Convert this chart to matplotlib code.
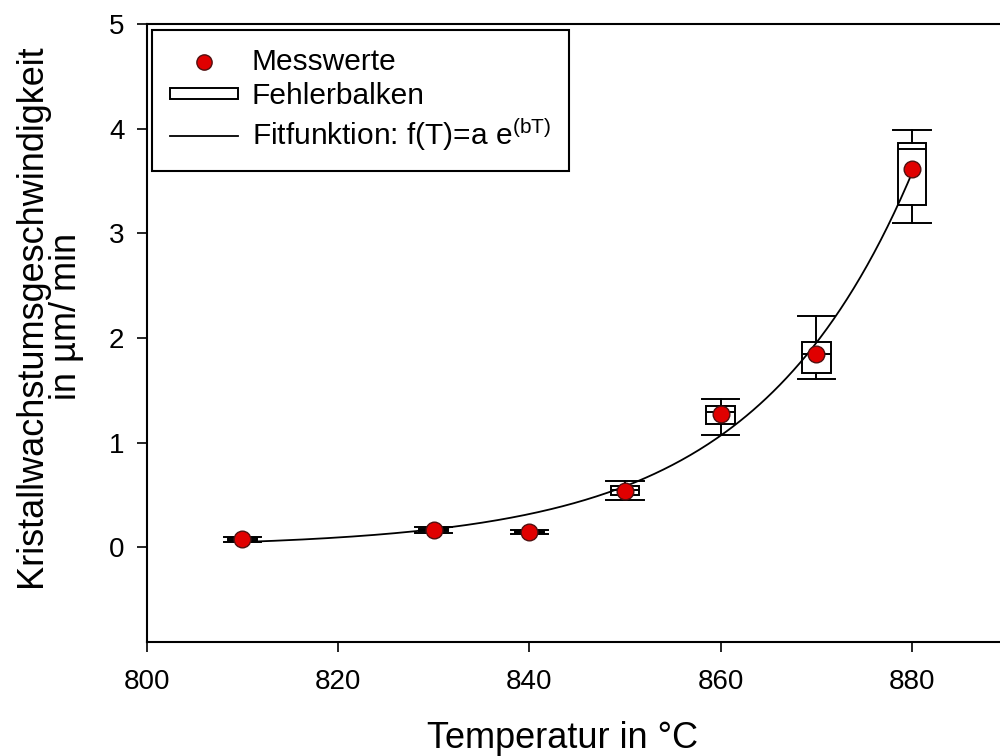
"""
Kristallwachstumsgeschwindigkeit vs. Temperatur, Boxplots + Exponentialfit.
"""
import matplotlib
matplotlib.use('Agg')
import matplotlib.pyplot as plt
import numpy as np
from matplotlib.lines import Line2D
from matplotlib.patches import Rectangle

plt.rcParams['font.family'] = ['Liberation Sans', 'DejaVu Sans']
plt.rcParams['mathtext.fontset'] = 'custom'
plt.rcParams['mathtext.rm'] = 'Liberation Sans'
plt.rcParams['mathtext.it'] = 'Liberation Sans'

temps = [810, 830, 840, 850, 860, 870, 880]
means = [0.08, 0.17, 0.15, 0.54, 1.27, 1.85, 3.61]
q1 = [0.065, 0.16, 0.14, 0.50, 1.18, 1.67, 3.27]
medians = [0.075, 0.17, 0.15, 0.545, 1.29, 1.845, 3.81]
q3 = [0.09, 0.18, 0.16, 0.59, 1.35, 1.965, 3.86]
whis_lo = [0.05, 0.14, 0.125, 0.455, 1.07, 1.605, 3.10]
whis_hi = [0.10, 0.20, 0.17, 0.635, 1.415, 2.21, 3.99]

# Fitparameter f(T) = a * exp(b*T)
fit_a = 2.95e-23
fit_b = 0.0604

xticks = [800, 820, 840, 860, 880]
yticks = [0, 1, 2, 3, 4, 5]

fig = plt.figure(figsize=(10, 7.56), dpi=100)
ax = fig.add_axes([0.1467, 0.1512, 0.8533, 0.8171])

stats = []
for i, t in enumerate(temps):
    stats.append({'med': medians[i], 'q1': q1[i], 'q3': q3[i],
                  'whislo': whis_lo[i], 'whishi': whis_hi[i], 'fliers': []})

lw = 1.4
ax.bxp(stats, positions=temps, widths=3.0, capwidths=3.9, showfliers=False,
       manage_ticks=False, patch_artist=True,
       boxprops=dict(facecolor='white', edgecolor='black', linewidth=lw),
       medianprops=dict(color='black', linewidth=lw),
       whiskerprops=dict(color='black', linewidth=lw),
       capprops=dict(color='black', linewidth=lw))

# Fitkurve
t_fit = np.linspace(temps[0], temps[-1], 300)
ax.plot(t_fit, fit_a * np.exp(fit_b * t_fit), color='black', linewidth=1.3, zorder=3)

# Messwerte
ax.plot(temps, means, 'o', markersize=12, markerfacecolor='#e00000',
        markeredgecolor='#501010', markeredgewidth=1.0, zorder=4)

ax.set_xlim(800, 889.2)
ax.set_ylim(-0.9, 5)
ax.set_xticks(xticks)
ax.set_yticks(yticks)
ax.tick_params(direction='out', length=7, width=1.2, labelsize=20, pad=9)
ax.tick_params(axis='x', pad=13)
ax.spines['right'].set_visible(False)
for s in ['left', 'bottom', 'top']:
    ax.spines[s].set_linewidth(1.5)

ax.set_xlabel('Temperatur in °C', fontsize=26, va='center')
ax.xaxis.set_label_coords(0.487, -0.156)
ax.set_ylabel('Kristallwachstumsgeschwindigkeit\nin µm/ min', fontsize=26,
              va='center', linespacing=1.0)
ax.yaxis.set_label_coords(-0.114, 0.527)

handles = [
    Line2D([], [], linestyle='none', marker='o', markersize=11,
           markerfacecolor='#e00000', markeredgecolor='#501010'),
    Rectangle((0, 0), 1, 1, facecolor='white', edgecolor='black', linewidth=1.4),
    Line2D([], [], color='black', linewidth=1.3),
]
labels = ['Messwerte', 'Fehlerbalken', r'Fitfunktion: f(T)=a e$^{\mathrm{(bT)}}$']
leg = ax.legend(handles, labels, loc='upper left', bbox_to_anchor=(0.006, 0.99),
                borderaxespad=0, fontsize=21.5, fancybox=False, edgecolor='black',
                framealpha=1, handlelength=2.3, handleheight=0.2,
                handletextpad=0.45, labelspacing=0.2, borderpad=0.6)
leg.get_frame().set_linewidth(1.5)

fig.savefig('out.png', dpi=100)
